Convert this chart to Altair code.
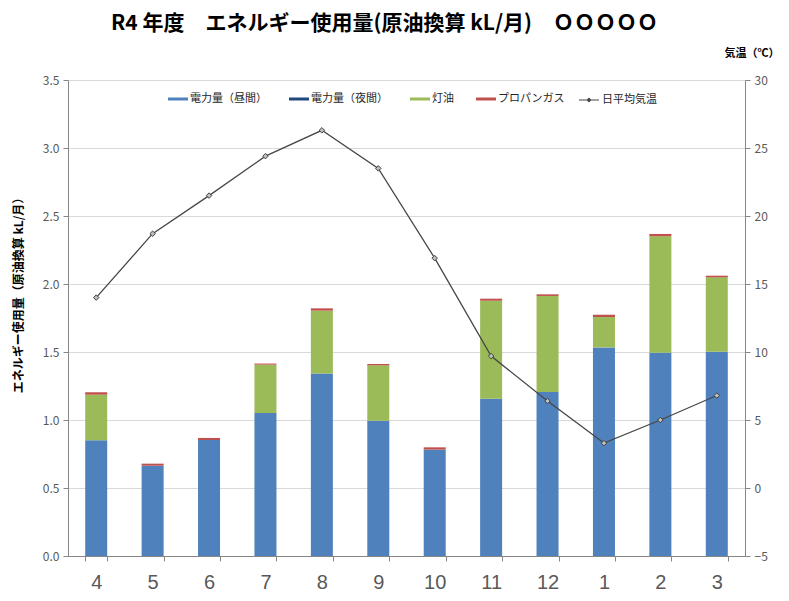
import altair as alt
import pandas as pd

months = ["4", "5", "6", "7", "8", "9", "10", "11", "12", "1", "2", "3"]
day_elec = [0.851, 0.664, 0.853, 1.051, 1.341, 0.995, 0.782, 1.157, 1.206, 1.534, 1.495, 1.502]
night_elec = [0.0, 0.0, 0.0, 0.0, 0.0, 0.0, 0.0, 0.0, 0.0, 0.0, 0.0, 0.0]
kerosene = [0.335, 0.0, 0.0, 0.356, 0.463, 0.407, 0.0, 0.720, 0.706, 0.223, 0.856, 0.547]
propane = [0.018, 0.015, 0.015, 0.008, 0.017, 0.010, 0.017, 0.015, 0.012, 0.017, 0.017, 0.012]
temps = [14.0, 18.7, 21.5, 24.4, 26.3, 23.5, 16.9, 9.7, 6.4, 3.3, 5.0, 6.8]

series_names = ["電力量（昼間）", "電力量（夜間）", "灯油", "プロパンガス"]
series_colors = ["#4F81BD", "#1F497D", "#9BBB59", "#C0504D"]
temp_name = "日平均気温"

rows = []
for i, m in enumerate(months):
    for k, (name, vals) in enumerate(zip(series_names, [day_elec, night_elec, kerosene, propane])):
        rows.append({"month": m, "series": name, "value": vals[i], "order": k})
bars_df = pd.DataFrame(rows)
temp_df = pd.DataFrame({"month": months, "temp": temps, "name": [temp_name] * len(months)})

JP = "Noto Sans CJK JP"

x_enc = alt.X(
    "month:N",
    sort=months,
    scale=alt.Scale(paddingInner=0.61, paddingOuter=0.305),
    axis=alt.Axis(
        title=None, labelAngle=0, labelFontSize=20, labelFont="Liberation Sans",
        labelColor="#595959", labelPadding=11, tickSize=5, tickColor="#868686",
        domainColor="#868686", tickBand="extent", grid=False,
    ),
)

bars = alt.Chart(bars_df).mark_bar().encode(
    x=x_enc,
    y=alt.Y(
        "value:Q",
        stack="zero",
        scale=alt.Scale(domain=[0, 3.5], nice=False),
        axis=alt.Axis(
            title="エネルギー使用量（原油換算 kL/月）",
            values=[0, 0.5, 1.0, 1.5, 2.0, 2.5, 3.0, 3.5], format=".1f",
            labelFont=JP, labelFontSize=12, labelColor="#595959", labelPadding=4,
            tickSize=5, tickColor="#868686", domainColor="#868686",
            grid=True, gridColor="#D9D9D9", gridWidth=1,
            titleFont=JP, titleFontSize=12, titleFontWeight="bold", titleColor="#000000",
            titleAngle=270, titleX=-50, titleY=212, titleAlign="center", titleBaseline="middle",
        ),
    ),
    color=alt.Color(
        "series:N",
        scale=alt.Scale(domain=series_names, range=series_colors),
        legend=alt.Legend(
            title=None, orient="none", direction="horizontal", legendX=100, legendY=9,
            symbolType="M-1,-0.15L1,-0.15L1,0.15L-1,0.15Z", symbolSize=400,
            symbolStrokeWidth=0, labelFont=JP, labelFontSize=11, labelColor="#262626",
            columnPadding=22, labelOffset=2,
        ),
    ),
    order=alt.Order("order:Q", sort="ascending"),
)

line = alt.Chart(temp_df).mark_line(strokeWidth=1.3).encode(
    x=alt.X("month:N", sort=months),
    y=alt.Y(
        "temp:Q",
        scale=alt.Scale(domain=[-5, 30], nice=False),
        axis=alt.Axis(
            orient="right", title="気温（℃）",
            values=[-5, 0, 5, 10, 15, 20, 25, 30],
            labelFont=JP, labelFontSize=12, labelColor="#595959", labelPadding=4,
            tickSize=5, tickColor="#868686", domainColor="#868686", grid=False,
            titleFont=JP, titleFontSize=11, titleFontWeight="bold", titleColor="#000000",
            titleAngle=0, titleX=-21, titleY=-27, titleAlign="left", titleBaseline="middle",
        ),
    ),
    stroke=alt.Stroke(
        "name:N",
        scale=alt.Scale(domain=[temp_name], range=["#474747"]),
        legend=alt.Legend(
            title=None, orient="none", direction="horizontal", legendX=510, legendY=9,
            symbolType="M-1,0L1,0M-0.17,0L0,-0.17L0.17,0L0,0.17Z", symbolSize=400,
            symbolStrokeWidth=1.2, symbolFillColor="#BFBFBF",
            labelFont=JP, labelFontSize=11, labelColor="#262626", labelOffset=2,
        ),
    ),
)

points = alt.Chart(temp_df).mark_point(
    shape="diamond", filled=True, fill="#BFBFBF", stroke="#404040",
    strokeWidth=1, size=30, opacity=1,
).encode(
    x=alt.X("month:N", sort=months),
    y=alt.Y("temp:Q", scale=alt.Scale(domain=[-5, 30], nice=False)),
)

temp_layer = alt.layer(line, points)

chart = alt.layer(bars, temp_layer).resolve_scale(y="independent").properties(
    width=677,
    height=476,
    autosize=alt.AutoSizeParams(type="none"),
    padding={"left": 60, "top": 72, "right": 36, "bottom": 36},
    title=alt.TitleParams(
        text="R4 年度　エネルギー使用量(原油換算 kL/月)　ＯＯＯＯＯ",
        font=JP, fontSize=21, fontWeight="bold", color="#000000",
        anchor="middle", dx=-22, offset=13,
    ),
).configure_view(stroke=None).configure(background="#FFFFFF")

chart.save("out.html", embed_options={"renderer": "svg", "actions": False})
